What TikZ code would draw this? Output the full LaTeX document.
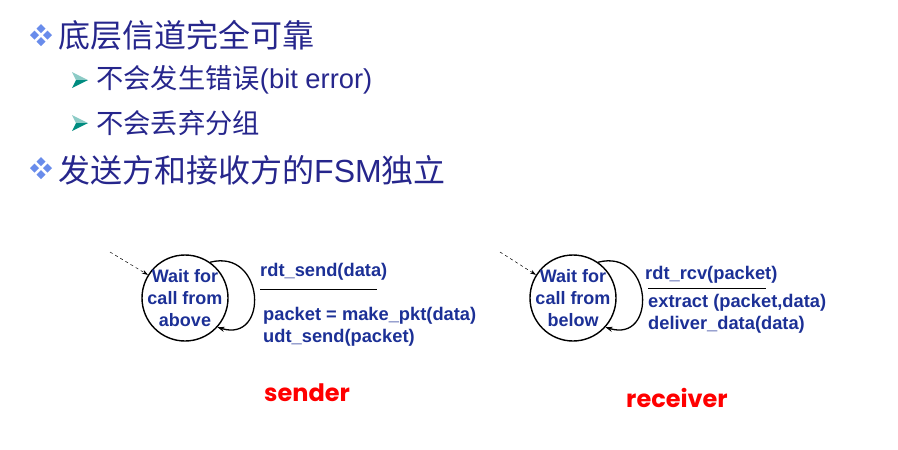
\documentclass[tikz,border=0pt]{standalone}
\usepackage{fontspec}
\setmainfont{Liberation Sans}
\newfontfamily\cjk{Noto Sans CJK SC}
\newfontfamily\comic{Poppins}
\usetikzlibrary{arrows.meta}
\definecolor{txtblue}{RGB}{38,38,140}
\definecolor{fsmblue}{RGB}{28,48,150}
\definecolor{dmdblue}{RGB}{105,140,235}
\definecolor{arrteal}{RGB}{0,140,128}
\definecolor{lblred}{RGB}{255,0,0}

\begin{document}
\begin{tikzpicture}[x=1pt,y=-1pt,
  fsmstate/.style={draw,circle,line width=1.4pt,minimum size=86pt,inner sep=0pt},
  statetext/.style={align=center,font=\fontsize{18}{22}\selectfont\bfseries,text=fsmblue},
  actbox/.style={anchor=west,align=left,inner sep=0pt,font=\fontsize{18.3}{21.5}\selectfont\bfseries,text=fsmblue},
  rolelbl/.style={font=\fontsize{24}{28}\selectfont\comic\bfseries,text=lblred},
  headline/.style={anchor=west,inner sep=0pt,text=txtblue,font=\fontsize{32}{36}\selectfont},
  subline/.style={anchor=west,inner sep=0pt,text=txtblue,font=\fontsize{27.3}{31}\selectfont},
  selfloop/.style={-{Stealth[length=7pt,width=5pt]},line width=1.3pt},
  initarrow/.style={-{Stealth[length=6pt,width=4pt]},dashed,line width=0.5pt}]
\useasboundingbox (0,0) rectangle (898,450);

\foreach \y in {35,168}
  \foreach \dx/\dy in {0/-6.5,0/6.5,-6.5/0,6.5/0}
    \fill[dmdblue] (41+\dx,\y+\dy) +(0,-4.5) -- +(4.5,0) -- +(0,4.5) -- +(-4.5,0) -- cycle;
\foreach \y in {80,123} {
  \fill[arrteal!45] (72,\y-8) -- (88,\y) -- (76,\y) -- cycle;
  \fill[arrteal] (76,\y) -- (88,\y) -- (72,\y+8) -- cycle;
}
\node[headline] (t1) at (58,35) {\cjk 底层信道完全可靠};
\node[subline] (t2) at (96,80) {{\cjk 不会发生错误}(bit error)};
\node[subline] (t3) at (96,123) {\cjk 不会丢弃分组};
\node[headline] (t4) at (58,170) {{\cjk 发送方和接收方的}FSM{\cjk 独立}};

\node[fsmstate] (snd) at (185,298) {};
\node[statetext] at (snd) {Wait for\\call from\\above};
\coordinate (sndin) at (110,252);
\draw[initarrow] (sndin) -- (snd.148);
\draw[selfloop] (snd.55) .. controls +(55,-14) and +(52,16) .. (snd.-42);
\node[actbox] (sndev) at (260,272) {rdt\_send(data)};
\draw[line width=1pt] (260,289) -- (377,289);
\node[actbox] (sndact) at (263,327) {packet = make\_pkt(data)\\udt\_send(packet)};
\node[rolelbl] (sndlbl) at (307,393) {sender};

\node[fsmstate] (rcv) at (573,298) {};
\node[statetext] at (rcv) {Wait for\\call from\\below};
\coordinate (rcvin) at (500,252);
\draw[initarrow] (rcvin) -- (rcv.148);
\draw[selfloop] (rcv.55) .. controls +(55,-14) and +(52,16) .. (rcv.-42);
\node[actbox] (rcvev) at (645,275) {rdt\_rcv(packet)};
\draw[line width=1pt] (648,288) -- (766,288);
\node[actbox] (rcvact) at (648,314) {extract (packet,data)\\deliver\_data(data)};
\node[rolelbl] (rcvlbl) at (677,398) {receiver};
\end{tikzpicture}
\end{document}
